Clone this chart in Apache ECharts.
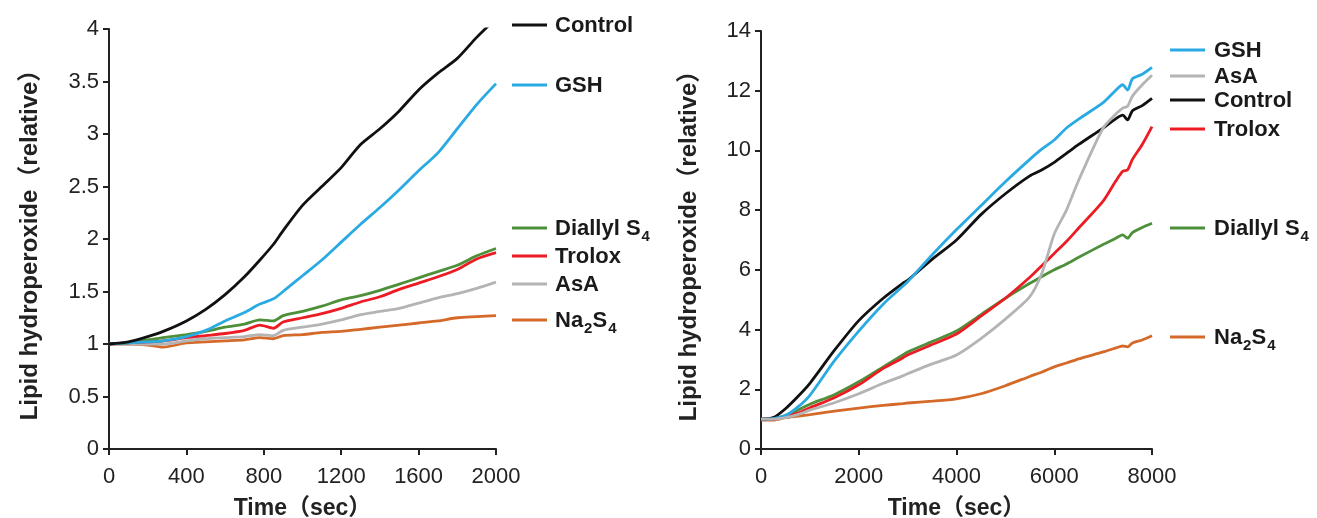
<!DOCTYPE html>
<html>
<head>
<meta charset="utf-8">
<script src="https://cdn.jsdelivr.net/npm/echarts/dist/echarts.min.js"></script>
<style>
  html, body { margin: 0; padding: 0; background: #fff; }
  #chart { width: 1317px; height: 518px; }
</style>
</head>
<body>
<div id="chart"></div>
<script>
// ---------------- DATA ----------------
// Left panel (0–2000 sec)
const leftTime     = [0,100,200,280,400,500,600,700,780,850,900,1000,1100,1200,1300,1400,1500,1600,1700,1800,1900,2000];
const leftControl  = [1.0,1.02,1.07,1.12,1.22,1.33,1.47,1.64,1.8,1.95,2.08,2.32,2.5,2.68,2.9,3.05,3.22,3.42,3.58,3.72,3.92,4.1];
const leftGSH      = [1.0,1.01,1.02,1.03,1.07,1.13,1.22,1.3,1.38,1.43,1.5,1.65,1.8,1.97,2.14,2.3,2.47,2.65,2.82,3.05,3.28,3.48];
const leftDiallyl  = [1.0,1.01,1.04,1.06,1.09,1.12,1.16,1.19,1.23,1.22,1.27,1.31,1.36,1.42,1.46,1.51,1.57,1.63,1.69,1.75,1.84,1.91];
const leftTrolox   = [1.0,1.01,1.02,1.03,1.06,1.08,1.1,1.13,1.18,1.15,1.21,1.25,1.29,1.34,1.4,1.45,1.52,1.58,1.64,1.71,1.81,1.87];
const leftAsA      = [1.0,1.0,1.0,1.0,1.03,1.05,1.06,1.07,1.09,1.08,1.13,1.16,1.19,1.23,1.28,1.31,1.34,1.39,1.44,1.48,1.53,1.59];
const leftNa2S4    = [1.0,1.0,0.99,0.97,1.01,1.02,1.03,1.04,1.06,1.05,1.08,1.09,1.11,1.12,1.14,1.16,1.18,1.2,1.22,1.25,1.26,1.27];

// Right panel (0–8000 sec)
const rightTime    = [0,250,500,750,1000,1500,2000,2500,2900,3000,3500,4000,4500,5000,5500,5750,6000,6250,6500,7000,7250,7400,7500,7600,7800,8000];
const rightControl = [1.0,1.05,1.35,1.75,2.2,3.3,4.3,5.05,5.55,5.65,6.35,7.0,7.85,8.55,9.15,9.35,9.6,9.9,10.2,10.75,11.05,11.18,11.02,11.33,11.5,11.74];
const rightGSH     = [1.0,1.02,1.12,1.4,1.8,2.95,3.95,4.85,5.45,5.6,6.5,7.35,8.15,8.95,9.7,10.05,10.35,10.75,11.05,11.6,12.0,12.2,12.02,12.4,12.55,12.78];
const rightAsA     = [1.0,1.0,1.05,1.15,1.3,1.55,1.85,2.2,2.45,2.52,2.85,3.15,3.7,4.35,5.1,5.9,7.2,8.0,9.0,10.75,11.2,11.42,11.48,11.82,12.2,12.52];
const rightTrolox  = [1.0,1.0,1.08,1.2,1.38,1.72,2.15,2.7,3.05,3.15,3.5,3.85,4.45,5.05,5.75,6.15,6.55,6.95,7.4,8.3,8.95,9.3,9.35,9.7,10.2,10.8];
const rightDiallyl = [1.0,1.02,1.12,1.3,1.5,1.82,2.25,2.75,3.15,3.25,3.6,3.95,4.5,5.05,5.55,5.78,6.0,6.2,6.42,6.85,7.05,7.17,7.06,7.25,7.42,7.56];
const rightNa2S4   = [0.97,0.97,1.05,1.1,1.15,1.27,1.37,1.46,1.52,1.54,1.6,1.68,1.85,2.12,2.43,2.58,2.75,2.88,3.02,3.25,3.38,3.45,3.42,3.55,3.65,3.79];

// Axis ticks
const leftXTicks  = { min: 0, max: 2000, interval: 400 };
const leftYTicks  = { min: 0, max: 4, interval: 0.5 };
const rightXTicks = { min: 0, max: 8000, interval: 2000 };
const rightYTicks = { min: 0, max: 14, interval: 2 };

// Labels
const xTitle = 'Time（sec）';
const yTitle = 'Lipid hydroperoxide（relative）';
const richNames = {
  'Control': 'Control', 'GSH': 'GSH', 'Diallyl S4': 'Diallyl S{sub|4}',
  'Trolox': 'Trolox', 'AsA': 'AsA', 'Na2S4': 'Na{sub|2}S{sub|4}'
};

// ---------------- STYLE / LAYOUT ----------------
const colors = {
  'Control': '#111111', 'GSH': '#2aaae2', 'Diallyl S4': '#4e8f3a',
  'Trolox': '#ec1c24', 'AsA': '#b4b4b4', 'Na2S4': '#d4692a'
};
const FONT = '"Liberation Sans", Arial, "Noto Sans CJK JP", sans-serif';
const leftLegend  = { x1: 512, x2: 547, tx: 555,
  order: ['Control','GSH','Diallyl S4','Trolox','AsA','Na2S4'], ys: [25, 85, 228, 256, 284, 320] };
const rightLegend = { x1: 1170, x2: 1205, tx: 1214,
  order: ['GSH','AsA','Control','Trolox','Diallyl S4','Na2S4'], ys: [50, 76, 100, 129, 228, 337] };

const leftData  = { 'Control': leftControl, 'GSH': leftGSH, 'Diallyl S4': leftDiallyl, 'Trolox': leftTrolox, 'AsA': leftAsA, 'Na2S4': leftNa2S4 };
const rightData = { 'Control': rightControl, 'GSH': rightGSH, 'Diallyl S4': rightDiallyl, 'Trolox': rightTrolox, 'AsA': rightAsA, 'Na2S4': rightNa2S4 };
const drawOrderLeft  = ['Na2S4','AsA','Trolox','Diallyl S4','GSH','Control'];
const drawOrderRight = ['Na2S4','Diallyl S4','Trolox','Control','GSH','AsA'];

const axisCol = '#222';
const plain = v => String(v);
function xAxis(idx, t) {
  return {
    type: 'value', gridIndex: idx, min: t.min, max: t.max, interval: t.interval,
    axisLine: { show: true, onZero: false, lineStyle: { color: axisCol, width: 2 } },
    axisTick: { show: true, length: 6, lineStyle: { color: axisCol, width: 2 } },
    axisLabel: { fontSize: 22, color: axisCol, margin: 17, fontFamily: FONT, formatter: plain },
    splitLine: { show: false },
    name: xTitle, nameLocation: 'middle', nameGap: 48,
    nameTextStyle: { fontSize: 23, fontWeight: 'bold', color: axisCol, fontFamily: FONT }
  };
}
function yAxis(idx, t, gap) {
  return {
    type: 'value', gridIndex: idx, min: t.min, max: t.max, interval: t.interval,
    axisLine: { show: true, lineStyle: { color: axisCol, width: 2 } },
    axisTick: { show: true, length: 6, lineStyle: { color: axisCol, width: 2 } },
    axisLabel: { fontSize: 22, color: axisCol, margin: 10, fontFamily: FONT, formatter: plain },
    splitLine: { show: false },
    name: yTitle, nameLocation: 'middle', nameRotate: 90, nameGap: gap,
    nameTextStyle: { fontSize: 24, fontWeight: 'bold', color: axisCol, fontFamily: FONT }
  };
}

function buildSeries(idx, time, data, order) {
  return order.map(name => ({
    name: name, type: 'line', xAxisIndex: idx, yAxisIndex: idx,
    data: time.map((t, i) => [t, data[name][i]]),
    showSymbol: false, symbol: 'none', smooth: 0.25, clip: true,
    lineStyle: { width: 2.8, color: colors[name] },
    silent: true
  }));
}

function buildLegend(lg) {
  const els = [];
  lg.order.forEach((name, i) => {
    const y = lg.ys[i];
    els.push({ type: 'line', shape: { x1: lg.x1, y1: y, x2: lg.x2, y2: y },
      style: { stroke: colors[name], lineWidth: 3 }, silent: true });
    els.push({ type: 'text', x: lg.tx, y: y + 1,
      style: { text: richNames[name], fill: '#1a1a1a', fontSize: 22, fontWeight: 'bold', fontFamily: FONT,
        lineHeight: 30, verticalAlign: 'middle', align: 'left',
        rich: { sub: { fontSize: 15, fontWeight: 'bold', fontFamily: FONT, fill: '#1a1a1a',
                       verticalAlign: 'bottom', lineHeight: 14, padding: [0, 0, 0, 1] } } },
      silent: true });
  });
  return els;
}

const chart = echarts.init(document.getElementById('chart'), null, { renderer: 'canvas' });
chart.setOption({
  animation: false,
  backgroundColor: '#ffffff',
  textStyle: { fontFamily: FONT },
  grid: [
    { left: 109, top: 29, width: 387, height: 420, containLabel: false, outerBoundsMode: 'none' },
    { left: 761, top: 31, width: 391, height: 418, containLabel: false, outerBoundsMode: 'none' }
  ],
  xAxis: [ xAxis(0, leftXTicks), xAxis(1, rightXTicks) ],
  yAxis: [ yAxis(0, leftYTicks, 67), yAxis(1, rightYTicks, 60) ],
  series: [].concat(buildSeries(0, leftTime, leftData, drawOrderLeft),
                    buildSeries(1, rightTime, rightData, drawOrderRight)),
  graphic: { elements: buildLegend(leftLegend).concat(buildLegend(rightLegend)) }
});
</script>
</body>
</html>
